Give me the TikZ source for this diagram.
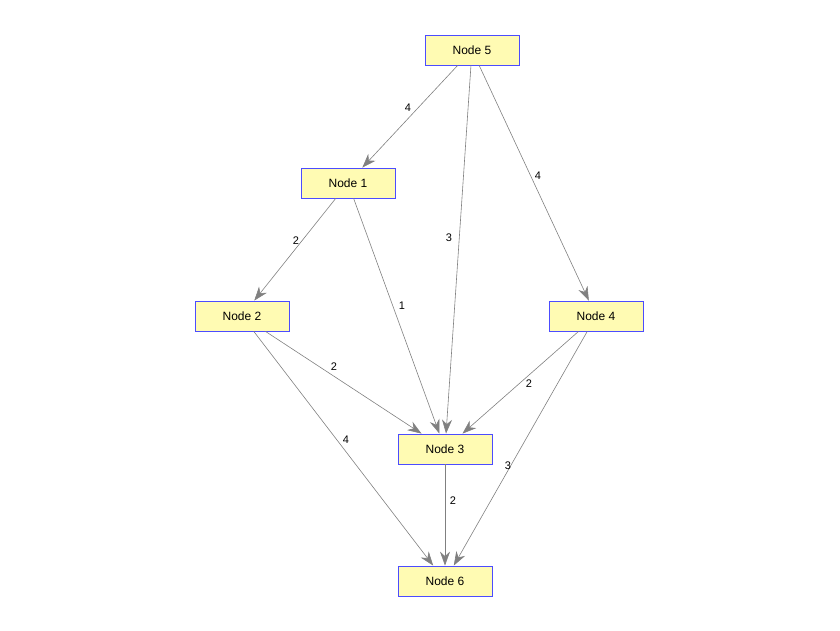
\documentclass[tikz,border=0pt]{standalone}
\usepackage{fontspec}
\setmainfont{Liberation Sans}
\usetikzlibrary{arrows.meta}
\tikzset{
	box/.style={draw=blue!70!white,thick,fill=yellow!30,minimum width=94pt,minimum height=30pt,inner sep=0pt,font=\fontsize{12}{14}\selectfont},
	edge/.style={draw=gray,-{Stealth[length=14pt,width=10pt]},line width=0.6pt},
	wt/.style={font=\fontsize{11}{13}\selectfont,inner sep=1pt}
}
\begin{document}
\begin{tikzpicture}[x=1pt,y=-1pt]
\useasboundingbox (0,0) rectangle (840,630);
\node[box] (n5) at (472,50){Node 5};
\node[box] (n1) at (348,183){Node 1};
\node[box] (n2) at (242,316){Node 2};
\node[box] (n4) at (596,316){Node 4};
\node[box] (n3) at (445,449){Node 3};
\node[box] (n6) at (445,581){Node 6};
\draw[edge] (n5) -- (n1);
\draw[edge] (n5) -- (n3);
\draw[edge] (n5) -- (n4);
\draw[edge] (n1) -- (n2);
\draw[edge] (n1) -- (n3);
\draw[edge] (n2) -- (n3);
\draw[edge] (n2) -- (n6);
\draw[edge] (n4) -- (n3);
\draw[edge] (n4) -- (n6);
\draw[edge] (n3) -- (n6);
\node[wt] (w51) at (408,108){4};
\node[wt] (w53) at (449,238){3};
\node[wt] (w54) at (538,176){4};
\node[wt] (w12) at (296,241){2};
\node[wt] (w13) at (402,306){1};
\node[wt] (w23) at (334,367){2};
\node[wt] (w26) at (346,440){4};
\node[wt] (w43) at (529,384){2};
\node[wt] (w46) at (508,466){3};
\node[wt] (w36) at (453,501){2};
\end{tikzpicture}
\end{document}
